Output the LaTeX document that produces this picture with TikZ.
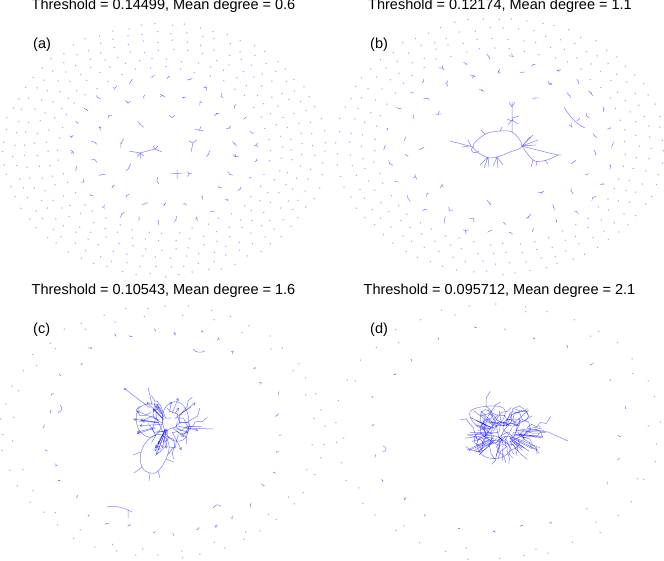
\documentclass[tikz,border=0pt]{standalone}
\usepackage{fontspec}
\setmainfont{Liberation Sans}
\definecolor{edgeblue}{RGB}{0,0,255}
\definecolor{isoblue}{RGB}{165,165,255}
\tikzset{
  ttl/.style={font=\fontsize{14.5}{17}\selectfont, anchor=base, inner sep=0pt},
  plabel/.style={font=\fontsize{14.5}{17}\selectfont, anchor=base west, inner sep=0pt},
  edge/.style={draw=edgeblue, line width=0.5pt, draw opacity=0.5, line cap=round, line join=round},
  iso/.style={fill=isoblue},
}
% ring of isolated nodes: cx cy rx ratio n jitter
\newcommand\dotring[6]{%
  \pgfmathsetmacro\offA{360*rnd}%
  \foreach \i in {1,...,#5} {%
    \pgfmathsetmacro\angA{\offA+360/#5*\i}%
    \fill[iso] ({#1+#3*cos(\angA)+#6*rand},{#2+#4*#3*sin(\angA)+#6*rand}) circle (0.75);
  }%
}
% ring of small components: cx cy rx ratio n jitter size
\newcommand\compring[7]{%
  \pgfmathsetmacro\offA{360*rnd}%
  \foreach \i in {1,...,#5} {%
    \pgfmathsetmacro\angA{\offA+360/#5*\i}%
    \pgfmathsetmacro\pX{#1+#3*cos(\angA)+#6*rand}%
    \pgfmathsetmacro\pY{#2+#4*#3*sin(\angA)+#6*rand}%
    \pgfmathsetmacro\angB{360*rnd}%
    \pgfmathsetmacro\angC{\angB+100+140*rnd}%
    \pgfmathsetmacro\angD{\angC+60+60*rnd}%
    \pgfmathsetmacro\lenA{#7*(0.5+0.5*rnd)}%
    \pgfmathsetmacro\lenB{#7*(0.2+0.8*rnd)}%
    \pgfmathsetmacro\lenC{max(0,#7*(1.6*rnd-0.8))}%
    \draw[edge] (\pX,\pY) ++(\angB:\lenA) -- (\pX,\pY) -- ++(\angC:\lenB);
    \draw[edge] (\pX,\pY) -- ++(\angD:\lenC);
  }%
}
% random walks: cx cy sx sy count steps len
\newcommand\walks[7]{%
  \foreach \k in {1,...,#5} {%
    \pgfmathsetmacro\pX{#1+#3*rand}%
    \pgfmathsetmacro\pY{#2+#4*rand}%
    \pgfmathsetmacro\angA{360*rnd}%
    \xdef\PX{\pX}\xdef\PY{\pY}\xdef\ANG{\angA}%
    \foreach \s in {1,...,#6} {%
      \pgfmathsetmacro\angA{\ANG+70*rand}%
      \pgfmathsetmacro\nX{\PX+#7*(0.6+0.6*rnd)*cos(\angA)}%
      \pgfmathsetmacro\nY{\PY+#7*(0.6+0.6*rnd)*sin(\angA)}%
      \draw[edge] (\PX,\PY) -- (\nX,\nY);
      \xdef\PX{\nX}\xdef\PY{\nY}\xdef\ANG{\angA}%
    }%
  }%
}
% radial spokes: cx cy rx ry count rin rout fork
\newcommand\spokes[8]{%
  \foreach \k in {1,...,#5} {%
    \pgfmathsetmacro\angA{360*rnd}%
    \pgfmathsetmacro\rI{#6*(0.4+0.6*rnd)}%
    \pgfmathsetmacro\rO{#6+(#7-#6)*(0.3+0.7*rnd)}%
    \pgfmathsetmacro\sX{#1+#3*\rI*cos(\angA)}%
    \pgfmathsetmacro\sY{#2+#4*\rI*sin(\angA)}%
    \pgfmathsetmacro\eX{#1+#3*\rO*cos(\angA)}%
    \pgfmathsetmacro\eY{#2+#4*\rO*sin(\angA)}%
    \draw[edge] (\sX,\sY) -- (\eX,\eY);
    \pgfmathsetmacro\dirA{atan2(\eY-\sY,\eX-\sX)+150}%
    \pgfmathsetmacro\dirB{\dirA-300}%
    \draw[edge] (\eX,\eY) -- ++(\dirA:#8) (\eX,\eY) -- ++(\dirB:#8);
  }%
}
\begin{document}
\begin{tikzpicture}[x=1pt,y=-1pt]
\useasboundingbox (0,0) rectangle (664,561);
\pgfmathsetseed{4242}

% ---------- titles and panel labels ----------
\node[ttl] (ta) at (163.5,10) {Threshold = 0.14499, Mean degree = 0.6};
\node[ttl] (tb) at (500,10) {Threshold = 0.12174, Mean degree = 1.1};
\node[ttl] (tc) at (163.5,295) {Threshold = 0.10543, Mean degree = 1.6};
\node[ttl] (td) at (499.5,295) {Threshold = 0.095712, Mean degree = 2.1};
\node[plabel] (la) at (33,49) {(a)};
\node[plabel] (lb) at (370,49) {(b)};
\node[plabel] (lc) at (33,334) {(c)};
\node[plabel] (ld) at (370,334) {(d)};

% ---------- panel (a) ----------
\dotring{164}{150}{161}{0.78}{69}{1.8}
\dotring{164}{150}{150}{0.78}{64}{1.8}
\dotring{164}{150}{139}{0.78}{60}{1.8}
\dotring{164}{150}{128}{0.78}{55}{1.8}
\dotring{164}{150}{117}{0.78}{50}{1.8}
\dotring{164}{150}{106}{0.78}{44}{1.8}
\compring{164}{150}{92}{0.78}{30}{2}{3.5}
\compring{164}{150}{70}{0.78}{22}{2}{3.8}
\compring{164}{150}{44}{0.72}{8}{2}{5.5}
\draw[edge] (129,151) -- (140,153) -- (155,149) -- (158,146);
\draw[edge] (155,149) -- (162,152) (155,149) -- (153,146);
\draw[edge] (140,153) -- (141,159) (140,153) -- (137,157) (140,153) -- (144,156);
\draw[edge] (193,143) -- (197,140) (193,143) -- (189,141) (193,143) -- (191,152);
\draw[edge] (170,174) -- (183,173) (177,170) -- (177,179);

% ---------- panel (b) ----------
\dotring{500}{146}{163}{0.78}{70}{1.8}
\dotring{500}{146}{150}{0.78}{64}{1.8}
\dotring{500}{146}{138}{0.78}{58}{1.8}
\dotring{500}{146}{126}{0.78}{52}{1.8}
\compring{500}{146}{113}{0.78}{30}{2.5}{3.8}
\compring{500}{146}{95}{0.78}{22}{2.5}{4}
\compring{500}{146}{78}{0.72}{9}{2}{4}
% big component
\draw[edge] plot[smooth cycle, tension=0.6] coordinates {(473,147) (481,137) (492,132) (512,132) (522,146) (510,152) (497,157) (486,157)};
\draw[edge] (512,132) -- (512,102) (509,102) -- (512,107) -- (515,102);
\draw[edge] (512,118) -- (519,116) (512,120) -- (518,124) (512,121) -- (507,119) (513,119) -- (508,125);
\draw[edge] (522,146) -- (533,135) (522,146) -- (538,140) (522,146) -- (530,137) (522,146) -- (536,145);
\draw[edge] plot[smooth, tension=0.6] coordinates {(522,146) (541,151) (558,155)};
\draw[edge] plot[smooth, tension=0.6] coordinates {(522,146) (533,160) (543,161) (552,158) (558,155)};
\draw[edge] (558,155) -- (561,155) (533,160) -- (531,167) (537,161) -- (536,166) (545,160) -- (548,164);
\draw[edge] (450,141) -- (473,147) (462,147) -- (470,146) (468,140) -- (471,146);
\draw[edge] (473,147) .. controls (468,152) and (476,155) .. (479,151);
\draw[edge] (488,157) -- (480,165) (488,157) -- (484,168) (488,157) -- (489,167);
\draw[edge] (497,157) -- (498,168) (497,157) -- (503,165) (497,157) -- (493,166);
\draw[edge] (485,134) -- (481,130) (500,131) -- (502,127);
\draw[edge] (564,107) .. controls (570,117) and (576,124) .. (585,128) (577,121) -- (580,118);

% ---------- panel (c) ----------
\dotring{163}{431}{161}{0.78}{46}{2.5}
\dotring{163}{431}{151}{0.78}{28}{3}
\compring{163}{431}{118}{0.86}{34}{5}{2.3}
\draw[edge] (107,507) .. controls (115,505) and (125,508) .. (132,512) (128,510) -- (128,518);
\draw[edge] (193,349) .. controls (196,353) and (201,353) .. (205,351);
\draw[edge] (60,405) .. controls (63,408) and (62,411) .. (58,413);
\draw[edge] (213,508) .. controls (216,504) and (219,504) .. (221,506);
% big component
\walks{168}{422}{20}{16}{20}{4}{7}
\spokes{168}{424}{26}{22}{30}{0.55}{1.45}{2.5}
\draw[edge] plot[smooth cycle, tension=0.7] coordinates {(162,435) (150,438) (141,452) (142,467) (150,473) (158,471) (166,459) (169,445)};
\draw[edge] (141,452) -- (133,455) (142,467) -- (134,473) (150,473) -- (149,481) (158,471) -- (160,478) (166,459) -- (174,462) (169,447) -- (176,448);
\draw[edge] plot[smooth cycle, tension=0.7] coordinates {(137,412) (147,404) (160,408) (162,425) (152,437) (139,430)};
\draw[edge] plot[smooth cycle, tension=0.7] coordinates {(165,408) (178,402) (188,415) (186,437) (172,440) (163,425)};
\draw[edge] (125,389) -- (150,408) (148,387) -- (152,405) (186,428) -- (213,429);
\draw[edge] (125,389) circle (1);

% ---------- panel (d) ----------
\dotring{497}{431}{163}{0.78}{38}{3}
\dotring{497}{431}{153}{0.78}{14}{3}
\compring{497}{431}{127}{0.8}{24}{5}{1.8}
\draw[edge] (383,446) .. controls (387,447) and (387,451) .. (383,452);
% big component
\walks{502}{431}{26}{15}{45}{5}{7}
\spokes{503}{433}{42}{28}{40}{0.5}{1.05}{0}
\draw[edge] plot[smooth cycle, tension=0.7] coordinates {(470,412) (490,406) (505,410) (498,425) (480,428)};
\draw[edge] plot[smooth cycle, tension=0.7] coordinates {(478,440) (495,436) (510,448) (500,458) (482,455)};
\draw[edge] (518,430) -- (533,430) -- (548,432) -- (568,441) (533,430) -- (542,428);
\end{tikzpicture}
\end{document}
